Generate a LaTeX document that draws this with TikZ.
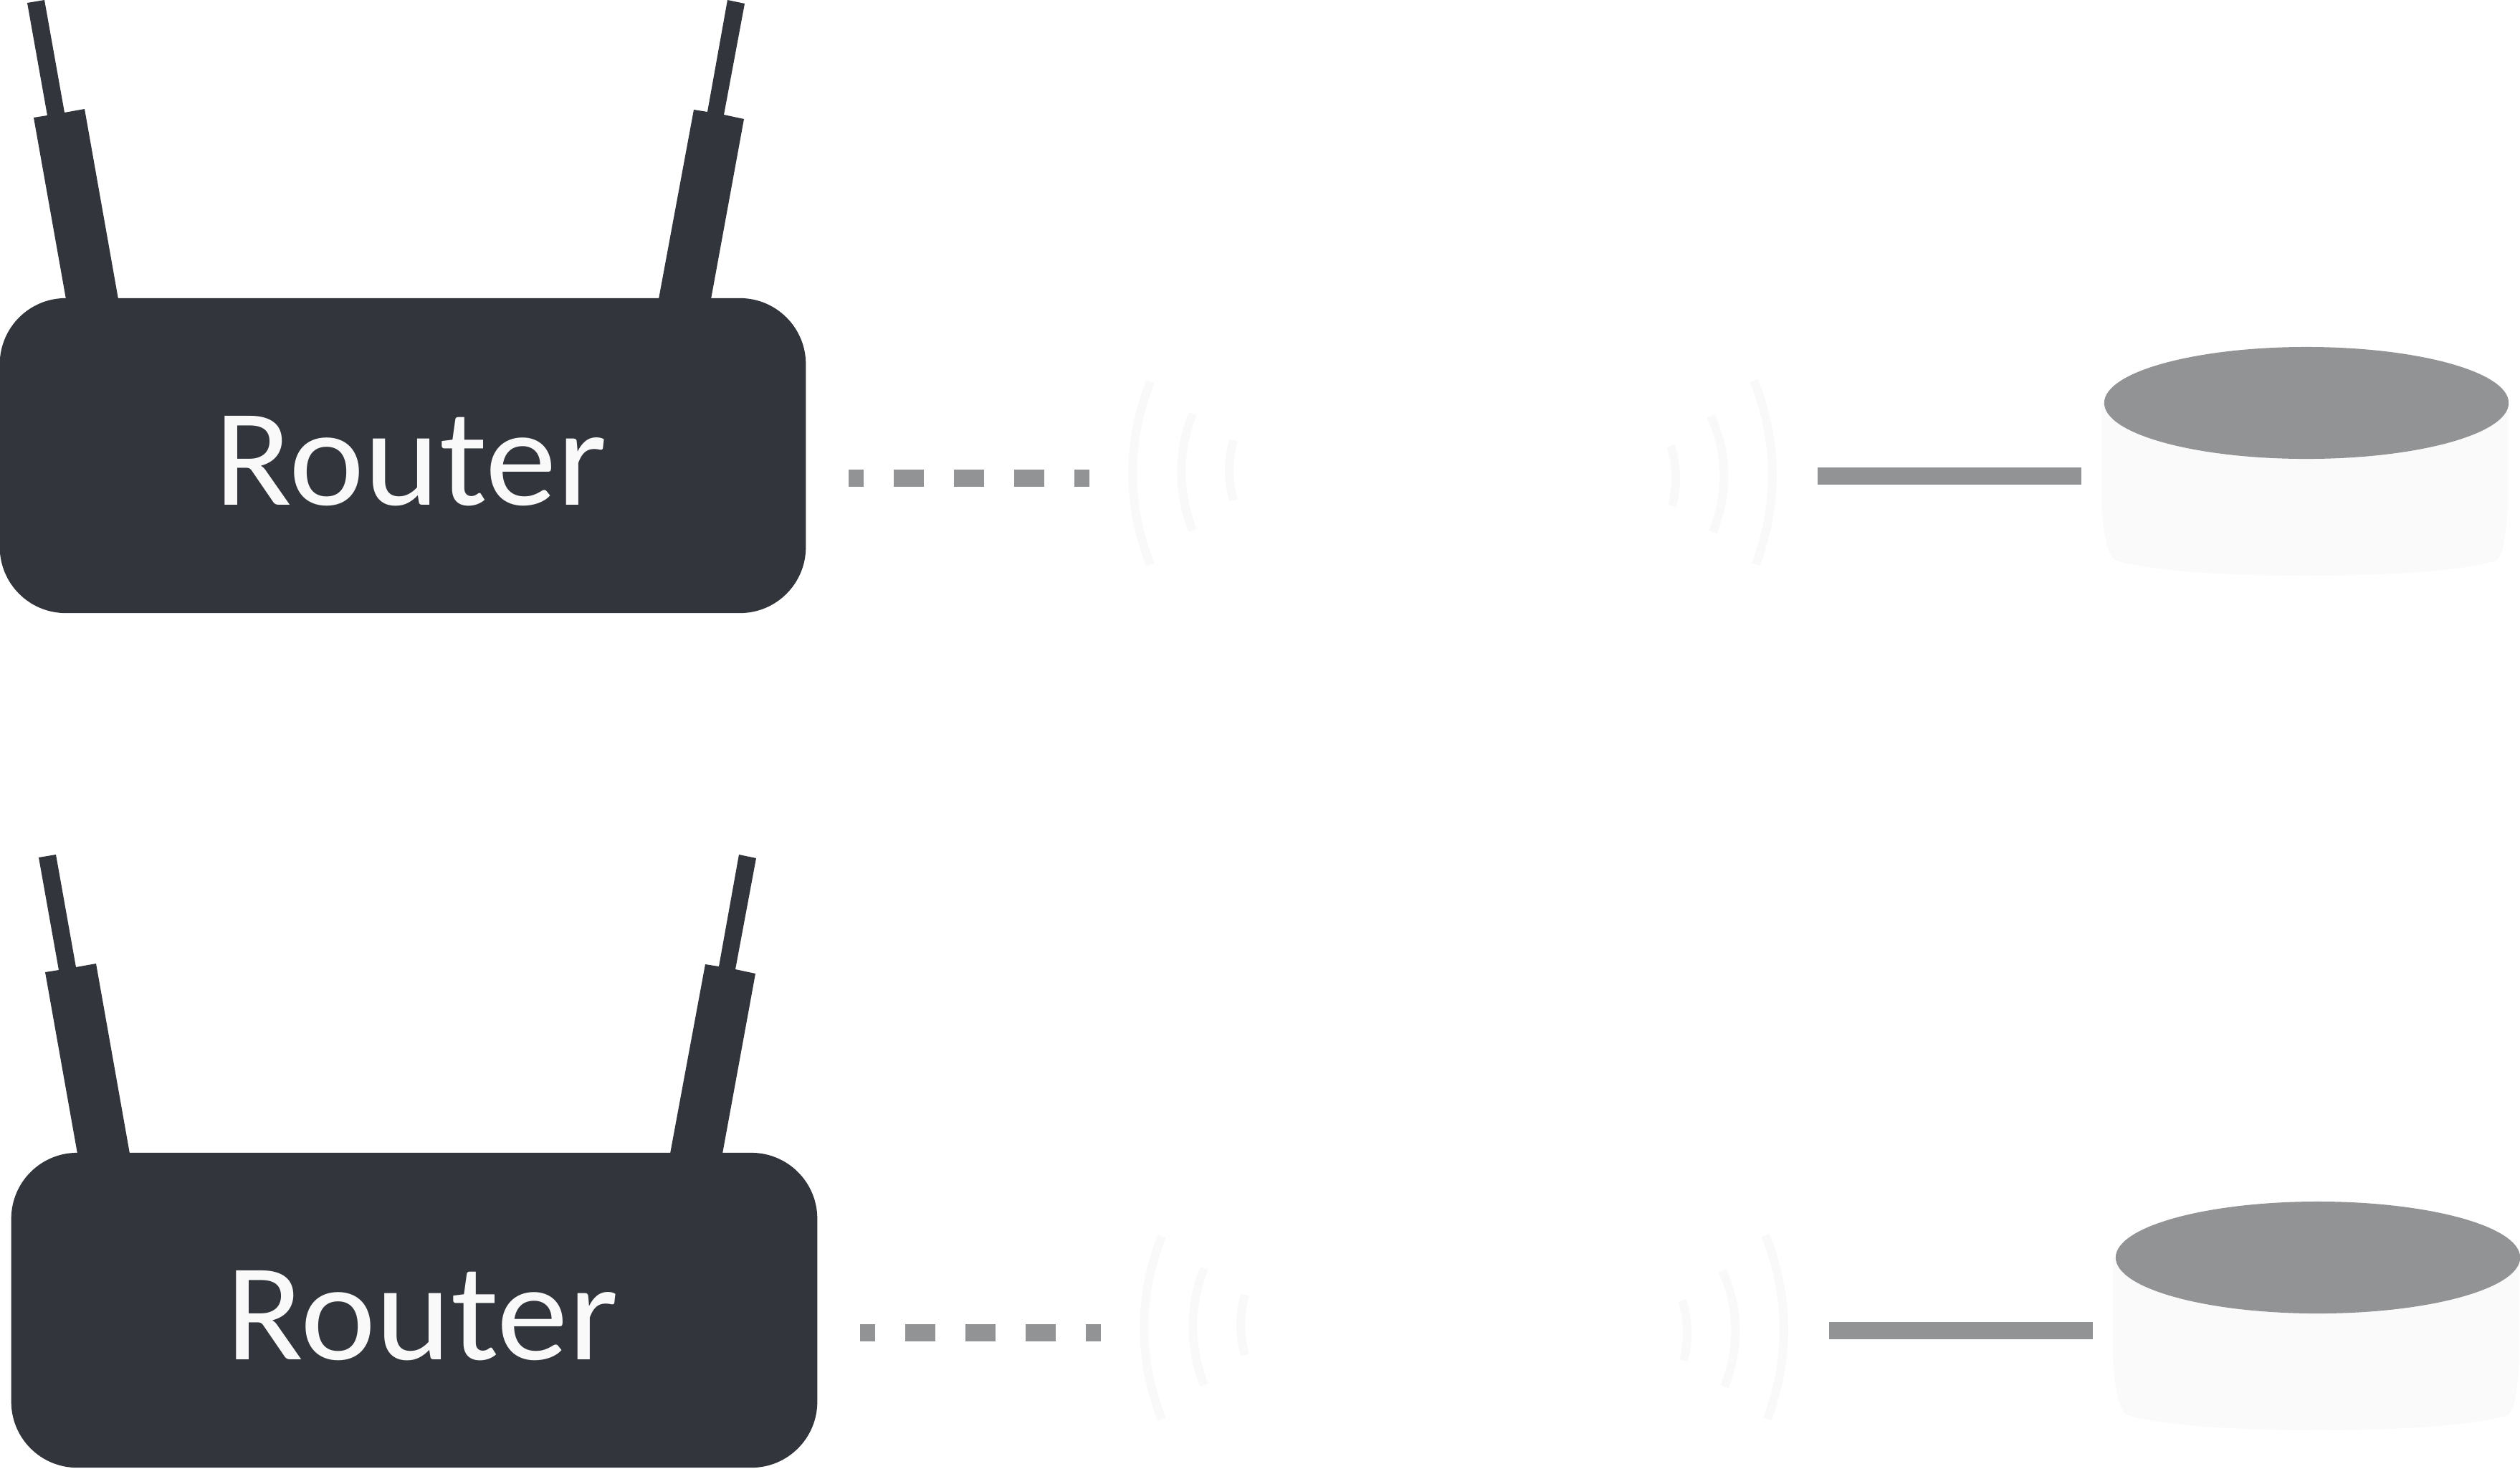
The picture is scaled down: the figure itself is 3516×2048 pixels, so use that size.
\documentclass[tikz,border=0pt]{standalone}
\usepackage{fontspec}
\newfontfamily\routerfont[FakeStretch=1.03]{Carlito}
\usetikzlibrary{shapes.geometric, positioning}
\definecolor{routergray}{HTML}{32353C}
\definecolor{linegray}{HTML}{929395}
\definecolor{palegray}{HTML}{F9F9F9}
\tikzstyle{routerbody} = [rectangle, rounded corners=0.92cm, minimum width=11.24cm, minimum height=4.39cm, inner sep=0pt, fill=routergray]
\tikzstyle{routertext} = [text=palegray, inner sep=0pt, anchor=base, font=\routerfont\fontsize{55}{66}\selectfont]
\tikzstyle{antenna} = [fill=routergray]
\tikzstyle{disctop} = [ellipse, minimum width=5.64cm, minimum height=1.56cm, inner sep=0pt, fill=linegray]
\tikzstyle{discside} = [fill=palegray!80!white]
\tikzstyle{dashline} = [line width=0.24cm, draw=linegray, dash pattern=on 0.42cm off 0.42cm, dash phase=0.21cm]
\tikzstyle{solidline} = [line width=0.24cm, draw=linegray]
\tikzstyle{wave} = [line width=0.12cm, draw=palegray]

\begin{document}
\begin{tikzpicture}[x=0.01cm, y=-0.01cm]
\useasboundingbox (0,0) rectangle (3516,2048);

\foreach \row/\dx/\dy in {a/0/0, b/16/1192} {
\begin{scope}[shift={(\dx,\dy)}]

% Antennas
\fill [antenna] (38,4) -- (62,0) -- (90,157) -- (118,152) -- (165,417) -- (92,417) -- (47,164) -- (66,161) -- cycle;
\fill [antenna] (1015,0) -- (1039,5) -- (1010,160) -- (1038,166) -- (992,417) -- (919,417) -- (968,153) -- (987,156) -- cycle;

% Nodes
\node (router\row) [routerbody] at (562,635.5) {};
\node (label\row) [routertext] at (573,704) {Router};
\coordinate (dashstart\row) at (1184,667);
\coordinate (dashend\row) at (1520,667);
\coordinate (linestart\row) at (2536,664);
\coordinate (lineend\row) at (2904,664);

% Disc
\fill [discside] (2932,562) -- (2932,700) .. controls (2934,745) and (2940,774) .. (2952,782) .. controls (3000,796) and (3100,803) .. (3218,803) .. controls (3336,803) and (3435,796) .. (3483,782) .. controls (3493,774) and (3497,745) .. (3499,700) -- (3499,562) -- cycle;
\node (disc\row) [disctop] at (3218,562) {};

% Waves
\foreach \wa/\wb/\wc/\wt/\wd in {1605/1605/1572/532/788, 1664/1664/1643/577/740, 1721/1721/1713/614/698, 2331/2333/2340/622/706, 2387/2390/2411/580/742, 2447/2450/2481/531/787} {
\draw [wave] (\wa,\wt) .. controls (\wc,{(2*\wt+\wd)/3}) and (\wc,{(\wt+2*\wd)/3}) .. (\wb,\wd);
}

% Connections
\draw [dashline] (dashstart\row) -- (dashend\row);
\draw [solidline] (linestart\row) -- (lineend\row);

\end{scope}
}

\end{tikzpicture}
\end{document}
